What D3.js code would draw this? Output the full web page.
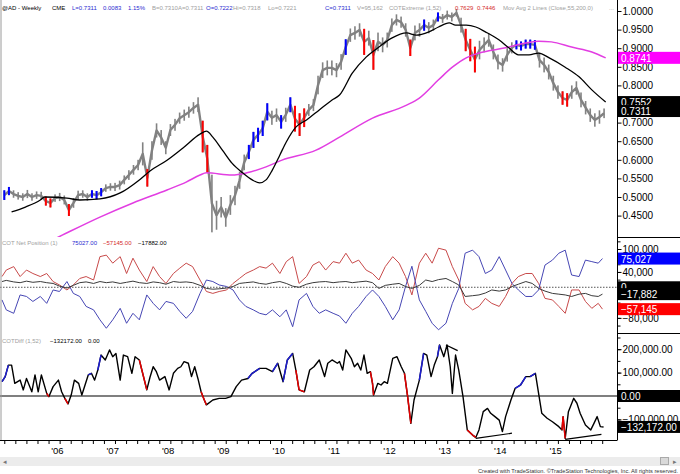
<!DOCTYPE html>
<html><head><meta charset="utf-8">
<script src="https://cdn.jsdelivr.net/npm/d3@7"></script>
<style>
html,body{margin:0;padding:0;background:#fff;}
svg{display:block;font-family:"Liberation Sans",Arial,sans-serif;}
</style></head><body>
<svg id="c" width="680" height="474"></svg>
<script>
// ---------------- DATA ----------------
// Monthly price range of @AD weekly bars, starting Jan 2005 (index = month)
const priceHigh = [0.518,0.527,0.518,0.513,0.510,0.519,0.510,0.515,0.514,0.501,
0.496,0.507,0.511,0.504,0.481,0.497,0.517,0.518,0.510,0.518,
0.516,0.524,0.534,0.537,0.538,0.544,0.558,0.572,0.586,0.600,
0.647,0.575,0.650,0.698,0.680,0.650,0.696,0.710,0.727,0.735,
0.743,0.755,0.768,0.705,0.640,0.560,0.490,0.500,0.470,0.505,
0.530,0.568,0.614,0.640,0.675,0.686,0.705,0.752,0.732,0.738,
0.720,0.740,0.768,0.745,0.725,0.738,0.750,0.763,0.826,0.862,
0.867,0.867,0.860,0.884,0.924,0.953,0.959,0.967,0.952,0.947,
0.922,0.942,0.929,0.942,0.980,0.991,0.985,0.967,0.923,0.961,
0.967,0.977,0.970,0.977,0.996,0.992,1.001,0.996,1.005,0.982,
0.952,0.925,0.904,0.920,0.929,0.940,0.910,0.883,0.873,0.900,
0.916,0.921,0.918,0.923,0.923,0.922,0.888,0.875,0.856,0.826,
0.800,0.784,0.779,0.800,0.811,0.781,0.758,0.738,0.725,0.733,
0.738];
const priceLow = [0.492,0.505,0.498,0.493,0.490,0.497,0.490,0.495,0.492,0.477,
0.472,0.487,0.489,0.480,0.449,0.471,0.493,0.498,0.490,0.498,
0.494,0.502,0.514,0.517,0.516,0.520,0.534,0.546,0.560,0.572,
0.585,0.528,0.600,0.660,0.640,0.615,0.664,0.678,0.697,0.705,
0.713,0.724,0.728,0.620,0.565,0.405,0.412,0.445,0.420,0.452,
0.478,0.522,0.572,0.602,0.632,0.648,0.664,0.706,0.694,0.702,
0.684,0.702,0.728,0.676,0.664,0.688,0.718,0.731,0.776,0.820,
0.827,0.827,0.822,0.842,0.882,0.917,0.923,0.931,0.882,0.907,
0.842,0.892,0.889,0.902,0.944,0.961,0.955,0.931,0.879,0.921,
0.931,0.947,0.940,0.947,0.972,0.968,0.977,0.972,0.985,0.942,
0.892,0.865,0.835,0.870,0.889,0.904,0.870,0.843,0.837,0.864,
0.886,0.897,0.894,0.899,0.899,0.896,0.848,0.835,0.816,0.786,
0.764,0.748,0.743,0.764,0.775,0.741,0.722,0.702,0.689,0.697,
0.712];
const lastClose = 0.7311;
// COTExtreme coloured bars (month indices)
const redBars  = [9,10,14,31,43,44,63,64,65,78,80,88,100,101,102,121,122];
const blueBars = [0,1,19,20,21,53,54,55,56,57,60,62,74,91,94,111,112,113,114,115];

// Moving averages (week index since Jan 2005, value)
const maFastWeeks = [9,22,36,40,61,73,92,111,129,139,155,170,186,192,198,207,216,226,235,242,
248,254,261,267,276,286,298,310,317,329,342,354,366,380,389,401,410,420,426,436,
445,454,467,476,485,495,504,514,529,542,554,567];
const maFast = [0.460,0.473,0.492,0.500,0.497,0.492,0.495,0.511,0.546,0.570,
0.599,0.632,0.669,0.677,0.661,0.626,0.591,0.565,0.546,0.538,
0.546,0.573,0.613,0.648,0.688,0.707,0.734,0.761,0.774,0.833,
0.876,0.903,0.927,0.941,0.935,0.944,0.957,0.968,0.962,0.962,
0.957,0.944,0.922,0.901,0.882,0.882,0.887,0.874,0.849,0.823,
0.788,0.7552];
const maSlowWeeks = [30,57,92,123,155,173,186,192,216,230,248,263,295,317,348,380,392,410,423,436,
448,473,492,504,516,535,554,567];
const maSlow = [0.360,0.398,0.446,0.484,0.519,0.540,0.559,0.565,0.559,0.565,
0.581,0.599,0.626,0.661,0.712,0.747,0.766,0.815,0.849,0.874,
0.887,0.901,0.914,0.919,0.917,0.903,0.890,0.8741];

// COT Net Position (thousands of contracts), sampled at these weeks
const cotWeeks = [0,4,11,17,23,29,36,42,48,54,61,67,73,79,86,92,98,104,111,117,
123,129,136,142,148,154,161,167,173,179,186,192,198,204,211,217,223,229,236,242,
248,254,261,267,273,279,286,292,298,304,311,317,323,329,335,342,348,354,360,367,
373,379,385,392,398,404,410,417,423,429,435,442,448,454,460,467,473,479,485,492,
498,504,510,517,523,529,535,542,548,554,560,564];
const cotBlue = [-33,-59,-68,-20,-24,-37,-24,-42,-7,-11,15,-16,-24,-50,-59,-85,-107,-85,-55,-94,
-68,-85,-20,-42,-59,-37,-42,-63,-81,-63,-16,19,15,6,2,-7,-33,-50,-59,-68,
-72,-59,-77,-59,-103,-33,-16,-50,-68,-59,-68,-75,-94,-68,-50,-24,-7,-24,-50,-85,
-59,2,55,-33,-63,-94,-111,-94,-42,-3,89,97,80,36,45,80,45,10,-7,-24,
-24,-7,58,71,89,97,32,28,71,67,63,75.027];
const cotRed = [28,45,54,28,45,36,28,36,15,6,-7,6,23,28,19,80,84,63,80,36,
76,45,15,54,28,10,36,50,63,54,19,-11,-16,-11,-7,10,23,36,45,54,
50,63,36,67,80,10,28,58,67,45,67,63,89,63,71,45,36,19,54,80,
63,28,-20,63,89,63,102,97,54,19,-42,-59,-50,-29,-42,-50,-24,10,28,36,
36,10,-29,-33,-50,-68,-7,-7,-37,-55,-42,-57.145];
const cotBlack = [15,18,14,12,16,13,15,12,10,3,-2,5,12,14,10,15,12,14,10,13,
16,12,10,14,12,8,15,13,14,12,5,-3,-5,-4,-2,2,10,12,14,10,
8,12,15,10,3,0,8,12,14,15,12,14,15,12,14,16,12,-3,5,8,
10,2,-3,5,19,15,20,23,15,6,-24,-22,-20,-15,-7,-10,-7,2,8,15,
10,-3,-10,-16,-18,-20,-24,-18,-16,-22,-24,-17.882];

// COTDiff (thousands), week index, colour flag (0 black, 1 red, 2 blue)
const diffWeeks = [0,3,6,9,12,17,20,23,28,31,34,37,42,44,48,53,56,59,62,65,
68,72,75,78,81,84,87,90,93,97,101,104,107,111,114,118,122,125,129,136,
139,142,145,148,153,157,161,165,168,171,175,178,181,184,187,190,192,198,204,210,
215,220,225,231,235,242,248,254,259,264,268,273,276,279,284,289,293,298,303,306,
310,315,317,320,323,328,331,334,337,340,343,346,348,349,353,356,359,362,367,371,
375,378,381,384,387,392,396,399,403,406,409,411,415,418,421,423,426,429,433,437,
442,445,448,452,456,459,463,467,470,473,478,482,487,492,496,501,504,507,512,517,
523,526,527,529,532,537,540,543,548,553,556,559,562,565];
const diffVal = [61,83,132,132,54,68,26,75,18,90,18,90,11,-3,40,68,18,-10,-34,4,
68,54,4,47,90,97,68,111,175,154,197,168,182,68,175,168,97,168,154,26,
80,125,104,68,83,26,97,118,125,147,140,83,125,75,18,-17,-38,-17,-10,-10,
-3,40,68,75,97,118,118,104,140,61,154,182,111,26,18,111,125,154,83,140,
154,140,147,111,197,161,125,140,111,175,97,104,54,4,54,47,61,54,161,168,
125,97,-3,-117,-17,68,182,175,83,132,168,218,168,218,125,11,175,111,-3,-145,
-167,-177,-145,-67,-53,-74,-88,-103,-152,-88,-17,33,47,83,83,97,11,-74,-95,-110,
-131,-145,-88,-181,-67,-10,-31,-74,-124,-145,-117,-88,-131,-132.172];
const diffFlag = [0,2,2,0,0,0,0,0,0,0,0,0,0,1,0,0,0,0,1,0,
0,0,0,0,0,2,0,0,2,0,0,0,0,0,0,0,0,0,0,1,
0,0,0,0,0,0,0,0,0,0,0,0,0,0,0,1,1,0,0,0,
0,0,0,0,2,2,0,0,2,0,2,2,0,1,1,0,0,0,0,0,
0,0,0,0,0,0,0,0,0,0,0,0,1,1,0,0,0,0,0,0,
0,0,1,1,0,0,2,0,0,0,0,2,0,0,0,0,0,0,0,0,
1,1,0,0,0,0,0,0,0,0,0,0,2,2,0,2,0,0,0,0,
0,0,1,1,0,0,0,0,0,0,0,0,0,0];
// Hand-drawn trendlines on COTDiff: [week1, value1, week2, value2]
const diffTrends = [[417,218,428,194],[445,-181,479,-159],[529,-185,563,-164]];

// Axis tick labels
const priceTicks = [0.45,0.50,0.55,0.60,0.65,0.70,0.75,0.80,0.85,0.90,0.95,1.00];
const cotTicks = [100,40,-20,-80];
const diffTicks = [200,100,0,-100];
const yearTicks = [2006,2007,2008,2009,2010,2011,2012,2013,2014,2015];
const yearLabels = ["'06","'07","'08","'09","'10","'11","'12","'13","'14","'15"];

// Header texts
const BLUE="#2a2ad0", RED="#d42a2a", GRAY="#a0a0a0", BLK="#000";
const header1 = [
 [2,"@AD - Weekly",BLK],[52,"CME",BLK],[72,"L=0.7311",BLUE],[103,"0.0083",BLUE],[128,"1.15%",BLUE],
 [152,"B=0.7310",GRAY],[178,"A=0.7311",GRAY],[206,"O=0.7222",BLUE],[233,"Hi=0.7318",GRAY],
 [268,"Lo=0.7221",GRAY],[325,"C=0.7311",BLUE],[357,"V=95,162",GRAY],[389,"COTExtreme (1,52)",GRAY],
 [455,"0.7629",RED],[477,"0.7446",RED],[503,"Mov Avg 2 Lines (Close,55,200,0)",GRAY],[609,"...",GRAY]];

// ---------------- CHART ----------------
const svg = d3.select("#c");
const AX = 617.5;
const x = d3.scaleLinear().domain([2005,2016]).range([2,611]);
const monthT = i => 2005 + (i+0.5)/12;
const weekT = w => 2005 + w/52;
const yP = d3.scaleLinear().domain([0.45,1.0]).range([215.6,11]);
const yC = d3.scaleLinear().domain([-80,100]).range([317.9,249]);
const yD = d3.scaleLinear().domain([-100,200]).range([419.4,349.2]);

const defs = svg.append("defs");
[["cp1",0,0,AX,237],["cp2",0,237,AX,96],["cp3",0,333,AX,107]].forEach(c=>{
  defs.append("clipPath").attr("id",c[0]).append("rect")
   .attr("x",c[1]).attr("y",c[2]).attr("width",c[3]).attr("height",c[4]);
});

// ---- Price panel
const g1 = svg.append("g").attr("clip-path","url(#cp1)");
const GREY = "#828282";
g1.append("path").datum(priceHigh)
 .attr("d", d3.line().x((d,i)=>x(monthT(i))).y((d,i)=>yP((d+priceLow[i])/2)))
 .attr("fill","none").attr("stroke",GREY).attr("stroke-width",2.4).attr("stroke-linejoin","round");
g1.selectAll(null).data(priceHigh).enter().append("rect")
 .attr("x",(d,i)=>x(monthT(i))-0.8).attr("width",1.6)
 .attr("y",d=>yP(d)).attr("height",(d,i)=>yP(priceLow[i])-yP(d))
 .attr("fill",GREY);
function colorBars(list,col){
  g1.selectAll(null).data(list).enter().append("rect")
   .attr("x",i=>x(monthT(i))-1).attr("width",2)
   .attr("y",i=>yP(priceHigh[i])).attr("height",i=>yP(priceLow[i])-yP(priceHigh[i]))
   .attr("fill",col);
}
colorBars(redBars,"#ff0000");
colorBars(blueBars,"#0000ff");
g1.append("path").datum(maSlow)
 .attr("d", d3.line().curve(d3.curveMonotoneX).x((d,i)=>x(weekT(maSlowWeeks[i]))).y(d=>yP(d)))
 .attr("fill","none").attr("stroke","#e23ee2").attr("stroke-width",1.5);
g1.append("path").datum(maFast)
 .attr("d", d3.line().curve(d3.curveMonotoneX).x((d,i)=>x(weekT(maFastWeeks[i]))).y(d=>yP(d)))
 .attr("fill","none").attr("stroke","#000").attr("stroke-width",1.3);

// ---- COT panel
const g2 = svg.append("g").attr("clip-path","url(#cp2)");
g2.append("line").attr("x1",0).attr("x2",AX).attr("y1",yC(0)).attr("y2",yC(0))
 .attr("stroke","#555").attr("stroke-dasharray","1.5,1.5");
const cotLine = d3.line().x((d,i)=>x(weekT(cotWeeks[i]))).y(d=>yC(d));
[[cotRed,"#c84a4a"],[cotBlue,"#4646b4"],[cotBlack,"#3a3a3a"]].forEach(s=>{
  g2.append("path").datum(s[0]).attr("d",cotLine).attr("fill","none")
   .attr("stroke",s[1]).attr("stroke-width",1);
});

// ---- COTDiff panel
const g3 = svg.append("g").attr("clip-path","url(#cp3)");
g3.append("line").attr("x1",0).attr("x2",AX).attr("y1",yD(0)).attr("y2",yD(0))
 .attr("stroke","#000").attr("stroke-width",1.2);
const diffLine = d3.line().x((d,i)=>x(weekT(diffWeeks[i]))).y(d=>yD(d));
g3.append("path").datum(diffVal).attr("d",diffLine).attr("fill","none")
 .attr("stroke","#000").attr("stroke-width",1.4).attr("stroke-linejoin","round");
for(let j=1;j<diffVal.length;j++){
  if(diffFlag[j]){
    g3.append("line")
     .attr("x1",x(weekT(diffWeeks[j-1]))).attr("y1",yD(diffVal[j-1]))
     .attr("x2",x(weekT(diffWeeks[j]))).attr("y2",yD(diffVal[j]))
     .attr("stroke",diffFlag[j]===1?"#e60000":"#1e1ed2").attr("stroke-width",1.5);
  }
}
diffTrends.forEach(t=>{
  g3.append("line").attr("x1",x(weekT(t[0]))).attr("y1",yD(t[1]))
   .attr("x2",x(weekT(t[2]))).attr("y2",yD(t[3])).attr("stroke","#000").attr("stroke-width",1.2);
});

// ---- frame
svg.append("line").attr("x1",1).attr("x2",1).attr("y1",0).attr("y2",440).attr("stroke","#9a9a9a");
svg.append("line").attr("x1",AX).attr("x2",AX).attr("y1",0).attr("y2",440).attr("stroke","#000");
[237,333].forEach(yy=>svg.append("line").attr("x1",AX).attr("x2",680).attr("y1",yy+0.5).attr("y2",yy+0.5).attr("stroke","#000"));
svg.append("line").attr("x1",0).attr("x2",AX).attr("y1",440.5).attr("y2",440.5).attr("stroke","#000");

// ---- right axes
function rAxis(scale, ticks, fmt, size){
  const g = svg.append("g").attr("transform",`translate(${AX},0)`)
   .call(d3.axisRight(scale).tickValues(ticks).tickFormat(fmt).tickSize(size).tickPadding(1));
  g.select(".domain").remove();
  g.selectAll("text").attr("font-size",10).attr("font-family","Liberation Sans, Arial, sans-serif").attr("fill","#000");
  g.selectAll("line").attr("stroke","#000");
  return g;
}
rAxis(yP, priceTicks, d3.format(".4f"), 4);
rAxis(yC, d3.range(-100,121,20), "", 3);
rAxis(yC, cotTicks, v=>d3.format(",")(v*1000), 4);
rAxis(yD, d3.range(-100,251,50), "", 3);
rAxis(yD, diffTicks, v=>d3.format(",.2f")(v*1000), 4);

function box(yv, txt, fill){
  svg.append("rect").attr("x",AX+0.5).attr("y",yv-6).attr("width",680-AX).attr("height",12).attr("fill",fill);
  svg.append("text").attr("x",AX+3.5).attr("y",yv+4).attr("font-size",10).attr("fill","#fff").text(txt);
}
const f4 = d3.format(".4f");
box(yP(maSlow[maSlow.length-1]), f4(maSlow[maSlow.length-1]), "#ff00ff");
box(yP(maFast[maFast.length-1]), f4(maFast[maFast.length-1]), "#000");
box(yP(lastClose), f4(lastClose), "#000");
const lb = cotBlue[cotBlue.length-1], lr = cotRed[cotRed.length-1], lk = cotBlack[cotBlack.length-1];
const fc = v=>d3.format(",")(Math.round(v*1000));
box(yC(lb), fc(lb), "#0000ff");
box(yC(0), "0", "#000");
box(yC(lk), fc(lk), "#000");
box(yC(lr), fc(lr), "#ff0000");
const ld = diffVal[diffVal.length-1];
box(yD(0), "0.00", "#000");
box(yD(ld), d3.format(",.2f")(ld*1000), "#000");

// ---- x axis
const gx = svg.append("g").attr("transform","translate(0,440.5)");
gx.selectAll(null).data(d3.range(2005.05,2015.95,0.2)).enter().append("line")
 .attr("x1",d=>x(d)).attr("x2",d=>x(d)).attr("y1",0).attr("y2",3.5).attr("stroke","#000");
gx.selectAll(null).data(yearTicks).enter().append("text")
 .attr("x",d=>x(d)).attr("y",13).attr("text-anchor","middle").attr("font-size",9.5)
 .text((d,i)=>yearLabels[i]);

// ---- headers
function header(items, yb){
  items.forEach(it=>svg.append("text").attr("x",it[0]).attr("y",yb).attr("font-size",6)
    .attr("fill",it[2]).text(it[1]));
}
header(header1, 9.5);
const f2 = v=>d3.format(".2f")(v*1000);
header([[2,"COT Net Position (1)",GRAY],[72,f2(lb),BLUE],[103,f2(lr),RED],[138,f2(lk),BLK]], 245);
header([[2,"COTDiff (1,52)",GRAY],[50,f2(ld),BLK],[88,"0.00",BLK]], 343);

// ---- scroll bar & footer
svg.append("rect").attr("x",0).attr("y",457).attr("width",680).attr("height",9).attr("fill","#ececec");
svg.append("text").attr("x",3).attr("y",464).attr("font-size",7).attr("fill","#777").text("◂");
svg.append("rect").attr("x",660.5).attr("y",457.5).attr("width",8).attr("height",7).attr("fill","#d9d9d9").attr("stroke","#aaa");
svg.append("text").attr("x",673).attr("y",464).attr("font-size",7).attr("fill","#777").text("▸");
svg.append("text").attr("x",678).attr("y",472.5).attr("text-anchor","end").attr("font-size",5.6)
 .attr("fill","#333").attr("textLength",200).attr("lengthAdjust","spacingAndGlyphs")
 .text("Created with TradeStation. ©TradeStation Technologies, Inc. All rights reserved.");
</script>
</body></html>
